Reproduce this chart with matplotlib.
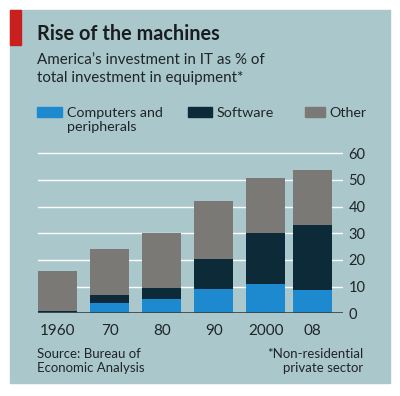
import matplotlib
matplotlib.use("Agg")
import matplotlib.pyplot as plt
from matplotlib.patches import Rectangle

years = ["1960", "70", "80", "90", "2000", "08"]
computers = [0.5, 3.8, 5.3, 9.1, 11.0, 8.9]
software = [0.5, 3.1, 4.3, 11.3, 19.1, 24.2]
other = [15.0, 17.1, 20.6, 21.7, 20.8, 20.6]
yticks = [0, 10, 20, 30, 40, 50, 60]

bg = "#aac8cc"
c_comp = "#1d8ad0"
c_soft = "#0c2a37"
c_other = "#7b7976"
txt = "#1f2427"

plt.rcParams['font.family'] = ['Lato', 'DejaVu Sans']

fig = plt.figure(figsize=(4.0, 3.96), dpi=100)
fig.patch.set_facecolor("white")

# background panel + red tag
fig.patches.append(Rectangle((10/400, 1 - 383/396), 380/400, 373/396,
                             transform=fig.transFigure, color=bg, zorder=-5))
fig.patches.append(Rectangle((10/400, 1 - 45/396), 11/400, 35/396,
                             transform=fig.transFigure, color="#c8201e", zorder=1))

fig.text(37/400, 1 - 40/396, "Rise of the machines", fontsize=14.3, fontweight="bold",
         color="#1a1d1f", va="baseline")
fig.text(37/400, 1 - 64/396, "America\u2019s investment in IT as % of", fontsize=10.9,
         color=txt, va="baseline")
fig.text(37/400, 1 - 82/396, "total investment in equipment*", fontsize=10.9,
         color=txt, va="baseline")

# legend
fig.patches.append(Rectangle((37/400, 1 - 117/396), 25/400, 10/396,
                             transform=fig.transFigure, color=c_comp, zorder=2))
fig.text(67/400, 1 - 117/396, "Computers and", fontsize=10.3, color=txt, va="baseline")
fig.text(67/400, 1 - 131/396, "peripherals", fontsize=10.3, color=txt, va="baseline")
fig.patches.append(Rectangle((188/400, 1 - 117/396), 24/400, 10/396,
                             transform=fig.transFigure, color=c_soft, zorder=2))
fig.text(217/400, 1 - 117/396, "Software", fontsize=10.3, color=txt, va="baseline")
fig.patches.append(Rectangle((305/400, 1 - 117/396), 20/400, 10/396,
                             transform=fig.transFigure, color=c_other, zorder=2))
fig.text(329/400, 1 - 117/396, "Other", fontsize=10.3, color=txt, va="baseline")

ax = fig.add_axes([38/400, (396 - 313.3)/396, 305/400, 62 * (160/60)/396])
ax.set_facecolor("none")
pos = [0, 1, 2, 3, 4, 4.9]
w = 0.75
b2 = [c + s for c, s in zip(computers, software)]
ax.bar(pos, computers, w, color=c_comp, zorder=3)
ax.bar(pos, software, w, bottom=computers, color=c_soft, zorder=3)
ax.bar(pos, other, w, bottom=b2, color=c_other, zorder=3)

ax.set_xlim(-0.375, 5.48)
ax.set_ylim(0, 62)
for t in yticks[1:]:
    ax.axhline(t, color="white", lw=1, zorder=1)
ax.axhline(0, color="#3a3f42", lw=1.2, zorder=4)

for s in ax.spines.values():
    s.set_visible(False)
ax.yaxis.tick_right()
ax.set_yticks(yticks)
ax.tick_params(axis="y", length=0, pad=4, labelsize=10.5, labelcolor=txt)
ax.set_xticks(pos)
ax.set_xticklabels(years)
ax.tick_params(axis="x", length=0, pad=8, labelsize=11, labelcolor=txt)

fig.text(37/400, 1 - 372/396, "Source: Bureau of\nEconomic Analysis", fontsize=9.5,
         color=txt, va="baseline", linespacing=1.2)
fig.text(363/400, 1 - 372/396, "*Non-residential\nprivate sector", fontsize=9.5,
         color=txt, va="baseline", ha="right", linespacing=1.2, multialignment="right")

fig.savefig("out.png", dpi=100, facecolor="white")
